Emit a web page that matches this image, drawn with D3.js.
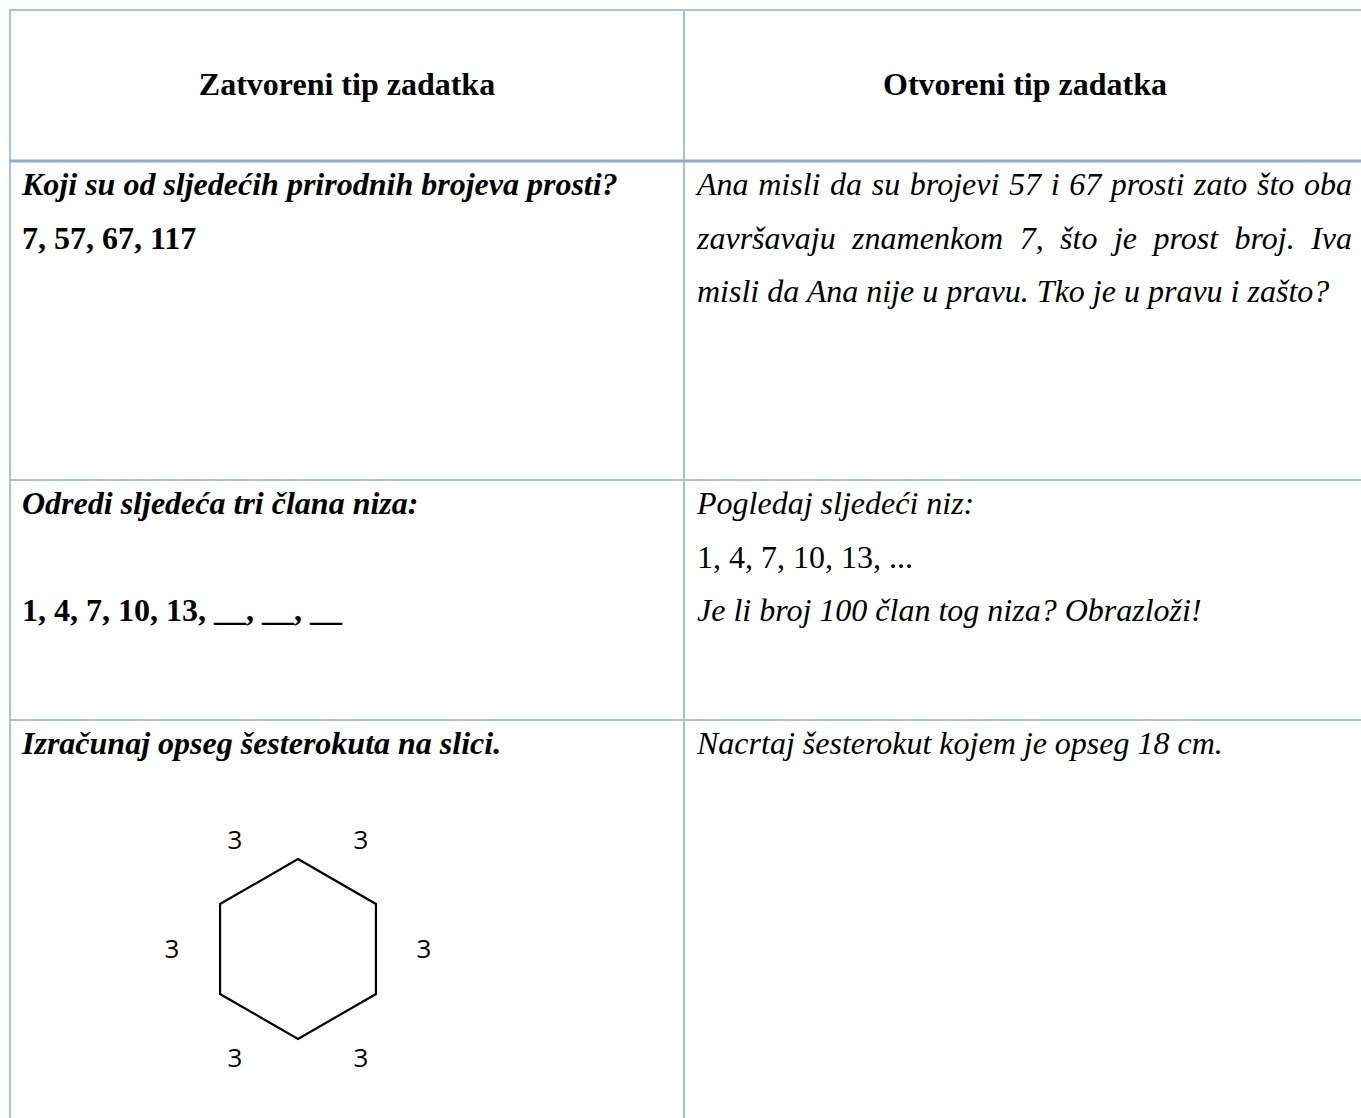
<!DOCTYPE html>
<html>
<head>
<meta charset="utf-8">
<script src="https://cdn.jsdelivr.net/npm/d3@7"></script>
<style>
  body { margin: 0; background: #fff; }
  svg { display: block; }
</style>
</head>
<body>
<svg></svg>
<script>
var headers = ["Zatvoreni tip zadatka", "Otvoreni tip zadatka"]

// closed type tasks (left column), one list of lines per row
var closedTasks = [
    ["Koji su od sljedećih prirodnih brojeva prosti?", "7, 57, 67, 117"],
    ["Odredi sljedeća tri člana niza:", "", "1, 4, 7, 10, 13, __, __, __"],
    ["Izračunaj opseg šesterokuta na slici."]
]

// open type tasks (right column)
var openTasks = [
    ["Ana misli da su brojevi 57 i 67 prosti zato što oba",
     "završavaju znamenkom 7, što je prost broj. Iva",
     "misli da Ana nije u pravu. Tko je u pravu i zašto?"],
    ["Pogledaj sljedeći niz:", "1, 4, 7, 10, 13, ...", "Je li broj 100 član tog niza? Obrazloži!"],
    ["Nacrtaj šesterokut kojem je opseg 18 cm."]
]
var openJustified = [true, false, false]

// side lengths of the hexagon in the picture
var hexSides = [3, 3, 3, 3, 3, 3]

var svgWidth = 1361, svgHeight = 1118
var rowEdges = [10, 161, 480, 720, svgHeight]
var lineGap = 53.5
var serif = "'Liberation Serif', 'Times New Roman', serif"

var svg = d3.select('svg')
    .attr("width", svgWidth)
    .attr("height", svgHeight)

var x = d3.scaleLinear().domain([0, 1, 2]).range([10, 684, 1366])

// test whether a line is just a number sequence (drawn upright)
function isSequence(line) { return /^[\d,\s_.]+$/.test(line) }

// --- grid lines
var thin = "#a9c0e4", thick = "#8eaadb"
svg.append("line").attr("x1", x(0) - 1).attr("x2", svgWidth).attr("y1", rowEdges[0]).attr("y2", rowEdges[0])
    .attr("stroke", thin).attr("stroke-width", 2)
svg.selectAll(".vline").data([0, 1]).enter().append("line")
    .attr("x1", function(d) { return x(d) }).attr("x2", function(d) { return x(d) })
    .attr("y1", rowEdges[0]).attr("y2", svgHeight)
    .attr("stroke", thin).attr("stroke-width", 2)
svg.selectAll(".hline").data([1, 2, 3]).enter().append("line")
    .attr("x1", x(0)).attr("x2", svgWidth)
    .attr("y1", function(d) { return rowEdges[d] }).attr("y2", function(d) { return rowEdges[d] })
    .attr("stroke", function(d) { return d == 1 ? thick : thin })
    .attr("stroke-width", function(d) { return d == 1 ? 3 : 2 })

// --- header
svg.selectAll(".header").data(headers).enter().append("text")
    .attr("x", function(d, i) { return (x(i) + x(i + 1)) / 2 })
    .attr("y", 95)
    .attr("text-anchor", "middle")
    .attr("font-family", serif)
    .attr("font-weight", "bold")
    .attr("font-size", "32px")
    .text(function(d) { return d })

// --- left column
closedTasks.forEach(function(lines, row) {
    lines.forEach(function(line, k) {
        svg.append("text")
            .attr("x", x(0) + 12)
            .attr("y", rowEdges[row + 1] + 34 + k * lineGap)
            .attr("font-family", serif)
            .attr("font-weight", "bold")
            .attr("font-style", isSequence(line) ? "normal" : "italic")
            .attr("font-size", "32px")
            .text(line)
    })
})

// --- right column (justified paragraphs spread their words)
var textLeft = x(1) + 13, textRight = 1352
openTasks.forEach(function(lines, row) {
    lines.forEach(function(line, k) {
        var t = svg.append("text")
            .attr("y", rowEdges[row + 1] + 34 + k * lineGap)
            .attr("font-family", serif)
            .attr("font-style", isSequence(line) ? "normal" : "italic")
            .attr("font-size", "32px")
        if (!openJustified[row] || k == lines.length - 1) {
            t.attr("x", textLeft).text(line)
            return
        }
        var words = line.split(" ")
        var spans = t.selectAll("tspan").data(words).enter().append("tspan").text(function(d) { return d })
        var widths = []
        spans.each(function() { widths.push(this.getComputedTextLength()) })
        var gap = (textRight - textLeft - d3.sum(widths)) / (words.length - 1)
        var pos = textLeft
        spans.attr("x", function(d, i) {
            var here = pos
            pos += widths[i] + gap
            return here
        })
    })
})

// --- hexagon with side labels
var side = d3.scaleLinear().domain([0, 3]).range([0, 90])
var cx = 298, cy = 949
var r = side(hexSides[0])
var corners = hexSides.map(function(s, i) {
    var a = (-90 + 60 * i) * Math.PI / 180
    return [cx + r * Math.cos(a), cy + r * Math.sin(a)]
})
svg.append("path")
    .datum(corners)
    .attr("fill", "none")
    .attr("stroke", "#000")
    .attr("stroke-width", 2.2)
    .attr("stroke-linejoin", "miter")
    .attr("d", d3.line().curve(d3.curveLinearClosed))

svg.selectAll(".side").data(hexSides).enter().append("text")
    .attr("x", function(d, i) { return cx + r * 1.4 * Math.cos((-60 + 60 * i) * Math.PI / 180) })
    .attr("y", function(d, i) { return cy + r * 1.4 * Math.sin((-60 + 60 * i) * Math.PI / 180) })
    .attr("dy", "0.36em")
    .attr("text-anchor", "middle")
    .attr("font-family", "'Open Sans', 'Noto Sans', sans-serif")
    .attr("font-size", "26px")
    .text(function(d) { return d })
</script>
</body>
</html>
